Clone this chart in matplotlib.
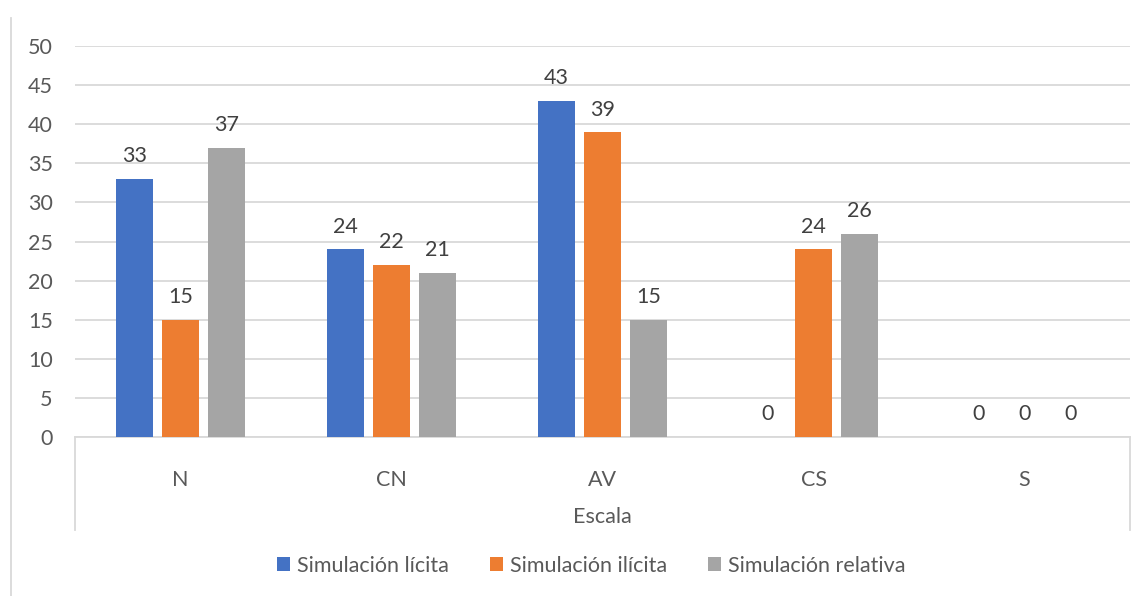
import matplotlib
matplotlib.use("Agg")
import matplotlib.pyplot as plt
from matplotlib.lines import Line2D
import numpy as np

categories = ["N", "CN", "AV", "CS", "S"]
series_names = ["Simulación lícita", "Simulación ilícita", "Simulación relativa"]
licita = [33, 24, 43, 0, 0]
ilicita = [15, 22, 39, 24, 0]
relativa = [37, 21, 15, 26, 0]
colors = ["#4472C4", "#ED7D31", "#A5A5A5"]
axis_title = "Escala"

plt.rcParams['font.family'] = ['Lato', 'DejaVu Sans']
text_color = "#595959"
grid_color = "#D9D9D9"

fig = plt.figure(figsize=(11.48, 5.96), dpi=100)
ax = fig.add_axes([75/1148, (596-437)/596, (1130-75)/1148, (437-46)/596])

x = np.arange(len(categories))
width = 0.172
offset = 0.218
fs = 15.5
for i, (vals, name, c) in enumerate(zip([licita, ilicita, relativa], series_names, colors)):
    pos = x + (i - 1) * offset
    ax.bar(pos, vals, width, color=c, label=name, zorder=3)
    for p, v in zip(pos, vals):
        ax.annotate(str(v), (p, v), xytext=(0, 9), textcoords="offset points",
                    ha="center", va="bottom", fontsize=fs, color="#404040", zorder=4)

ax.set_xlim(-0.5, len(categories) - 0.5)
ax.set_ylim(0, 50)
ax.set_yticks(np.arange(0, 51, 5))
ax.yaxis.grid(True, color=grid_color, linewidth=1.3, zorder=0)
for s in ["top", "right", "left"]:
    ax.spines[s].set_visible(False)
ax.spines["bottom"].set_color(grid_color)
ax.spines["bottom"].set_linewidth(1.3)
ax.tick_params(axis="y", length=0, labelsize=fs, labelcolor=text_color, pad=16)
ax.tick_params(axis="x", length=0, labelsize=fs, labelcolor=text_color, pad=24)
ax.set_xticks(x)
ax.set_xticklabels(categories)

yb = -(530-437)/391
for xa in [0, 1]:
    ax.add_line(Line2D([xa, xa], [0, yb], transform=ax.transAxes, color=grid_color,
                       linewidth=1.3, clip_on=False))
ax.text(0.5, -(517-437)/391, axis_title, transform=ax.transAxes, ha="center", va="center",
        fontsize=fs, color=text_color)

# chart border on the left
fig.add_artist(Line2D([11/1148, 11/1148], [0, (596-18)/596], transform=fig.transFigure,
                      color=grid_color, linewidth=1.3))

leg = fig.legend(loc="center", bbox_to_anchor=(591/1148, (596-566)/596), ncol=3, frameon=False,
                 fontsize=fs, handlelength=0.63, handleheight=0.63, handletextpad=0.3,
                 columnspacing=1.9, labelcolor=text_color)

fig.savefig("out.png", dpi=100)
